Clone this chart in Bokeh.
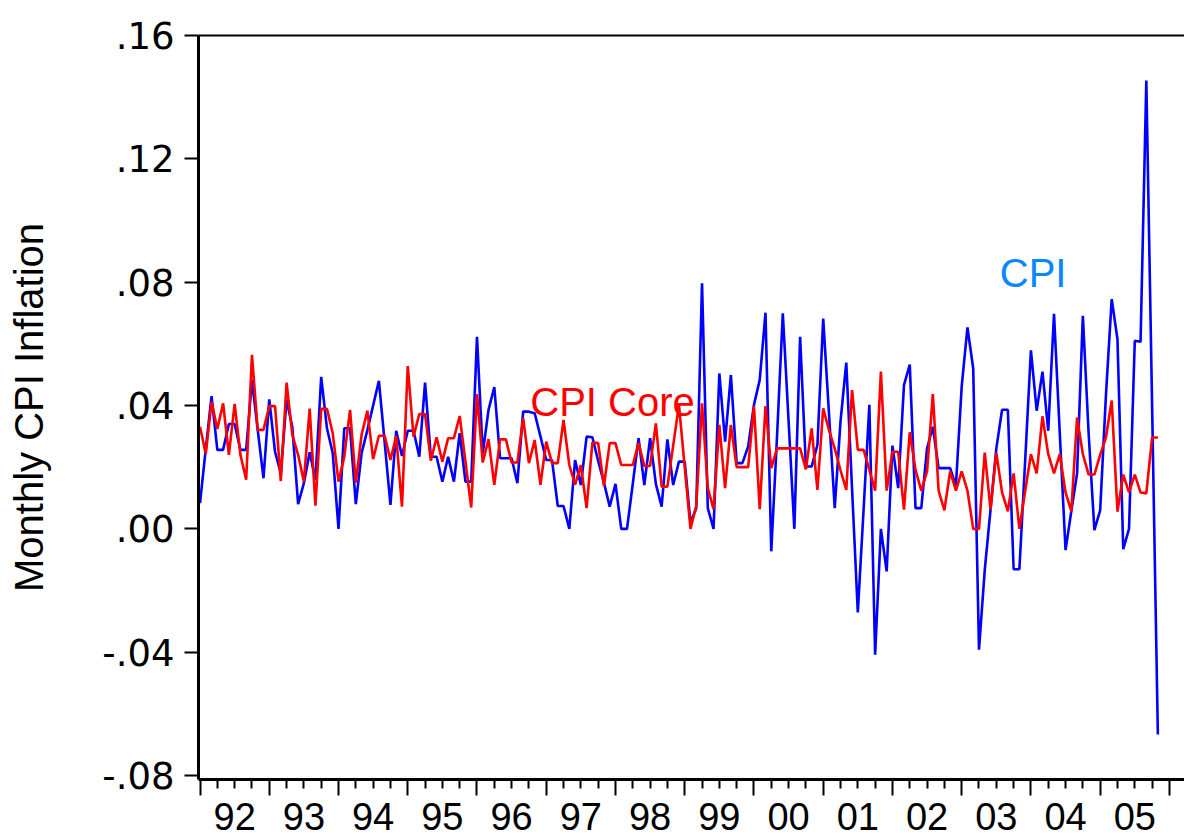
import numpy as np
from bokeh.plotting import figure
from bokeh.models import LinearAxis, FixedTicker, Label, Range1d, CustomLabelingPolicy
from bokeh.embed import file_html
from bokeh.resources import INLINE

# Monthly inflation, 1992:01 onwards
cpi = [
    0.0083, 0.026, 0.043, 0.0256, 0.0256, 0.034, 0.034, 0.0256, 0.0256, 0.0483, 0.032, 0.0164,
    0.042, 0.025, 0.018, 0.0418, 0.033, 0.008, 0.0148, 0.0248, 0.0159, 0.0493, 0.0326, 0.0245,
    0.0, 0.0326, 0.0326, 0.008, 0.0245, 0.032, 0.040, 0.048, 0.028, 0.0078, 0.0318, 0.0236,
    0.0318, 0.0318, 0.0234, 0.0474, 0.0234, 0.0234, 0.0153, 0.0234, 0.0153, 0.031, 0.0153, 0.0153,
    0.0623, 0.0245, 0.0386, 0.046, 0.0229, 0.0229, 0.0229, 0.0148, 0.038, 0.038, 0.0375, 0.030,
    0.0223, 0.0223, 0.0074, 0.0074, 0.0, 0.0223, 0.0142, 0.0299, 0.0297, 0.022, 0.015, 0.0072,
    0.0146, 0.0, 0.0, 0.0146, 0.0294, 0.0142, 0.0294, 0.0146, 0.0072, 0.029, 0.0142, 0.0218,
    0.0218, 0.002, 0.0067, 0.0796, 0.0067, 0.0, 0.0504, 0.0283, 0.0499, 0.0213, 0.0213, 0.0267,
    0.0402, 0.0483, 0.0701, -0.0073, 0.030, 0.0699, 0.035, 0.0, 0.0623, 0.0202, 0.0202, 0.0272,
    0.0682, 0.0375, 0.0067, 0.0348, 0.0539, 0.013, -0.0271, 0.0062, 0.0402, -0.0408, 0.0, -0.0138,
    0.027, 0.0132, 0.0466, 0.0533, 0.0067, 0.0067, 0.0261, 0.0331, 0.0197, 0.0197, 0.0197, 0.0139,
    0.0461, 0.0653, 0.052, -0.0392, -0.0133, 0.0062, 0.026, 0.0386, 0.0386, -0.0131, -0.0131, 0.022,
    0.0579, 0.0383, 0.051, 0.0318, 0.0697, 0.031, -0.0069, 0.0057, 0.018, 0.0691, 0.031, -0.0004,
    0.006, 0.0433, 0.0745, 0.0615, -0.0066, 0.0, 0.061, 0.0607, 0.1454, 0.04, -0.0667,
]
cpi_core = [
    0.0331, 0.0243, 0.0412, 0.0324, 0.0407, 0.024, 0.0405, 0.024, 0.0159, 0.0564, 0.0321, 0.0321,
    0.0398, 0.0398, 0.0155, 0.0474, 0.0305, 0.024, 0.0153, 0.039, 0.0075, 0.0389, 0.0389, 0.031,
    0.0153, 0.0234, 0.0386, 0.015, 0.0305, 0.0383, 0.0226, 0.0302, 0.0302, 0.0223, 0.0301, 0.0072,
    0.0528, 0.0299, 0.0372, 0.0372, 0.0221, 0.0297, 0.0218, 0.0294, 0.0294, 0.0366, 0.0218, 0.0069,
    0.0437, 0.0215, 0.0291, 0.0143, 0.029, 0.029, 0.0215, 0.0215, 0.0359, 0.0213, 0.0288, 0.0143,
    0.0283, 0.0213, 0.0213, 0.0353, 0.0207, 0.0143, 0.0207, 0.0067, 0.028, 0.0278, 0.0139, 0.0278,
    0.0278, 0.0207, 0.0207, 0.0207, 0.0278, 0.0204, 0.0204, 0.0342, 0.0137, 0.0137, 0.027, 0.0402,
    0.02, 0.0, 0.0075, 0.0407, 0.0132, 0.0064, 0.0337, 0.0132, 0.0337, 0.02, 0.02, 0.02,
    0.0398, 0.0064, 0.0398, 0.0197, 0.0261, 0.0261, 0.0261, 0.0261, 0.0261, 0.0193, 0.0326, 0.0126,
    0.0391, 0.032, 0.026, 0.019, 0.0126, 0.045, 0.0256, 0.0256, 0.0191, 0.0124, 0.051, 0.0124,
    0.025, 0.025, 0.0062, 0.0313, 0.0191, 0.0124, 0.0186, 0.0437, 0.0124, 0.006, 0.0186, 0.0124,
    0.0186, 0.0124, 0.0, 0.0, 0.0247, 0.0062, 0.0247, 0.0118, 0.0057, 0.018, 0.0, 0.0122,
    0.0242, 0.018, 0.0365, 0.0242, 0.018, 0.0242, 0.0118, 0.0057, 0.0361, 0.0242, 0.0176, 0.0176,
    0.024, 0.0296, 0.0416, 0.0056, 0.0176, 0.0118, 0.0176, 0.0118, 0.0115, 0.0296, 0.0296,
]
start_year = 1992
years = list(range(1992, 2007))
year_labels = ["92", "93", "94", "95", "96", "97", "98", "99", "00", "01", "02", "03", "04", "05"]
y_ticks = [-0.08, -0.04, 0, 0.04, 0.08, 0.12, 0.16]
y_tick_labels = ["-.08", "-.04", ".00", ".04", ".08", ".12", ".16"]
series_labels = ["CPI Core", "CPI"]
series_label_x = [1996.77, 2003.55]
series_label_y = [0.0411, 0.0829]

n = len(cpi)
x = start_year + np.arange(n) / 12.0

FONT = "Liberation Sans"
TICKFONT = "DejaVu Sans"

p = figure(width=1184, height=838, output_backend="svg", toolbar_location=None,
           x_range=Range1d(1991.978, 2006.218), y_range=Range1d(-0.0813, 0.16),
           min_border_left=198, min_border_right=0, min_border_top=35, min_border_bottom=59)
p.outline_line_color = None
p.xgrid.visible = False
p.ygrid.visible = False
p.background_fill_color = "white"
p.border_fill_color = "white"

# bottom axis: year-start ticks (major) + quarterly minor ticks, no labels
ax = p.xaxis[0]
quarters = [y + q / 4 for y in years[:-1] for q in (1, 2, 3)]
ax.ticker = FixedTicker(ticks=years, minor_ticks=quarters)
ax.major_label_policy = CustomLabelingPolicy(code="return new Set()")
ax.major_label_text_font_size = "1px"
ax.major_label_standoff = 0
ax.major_tick_in = 0
ax.major_tick_out = 16
ax.minor_tick_in = 0
ax.minor_tick_out = 9
ax.axis_line_width = 3
ax.major_tick_line_width = 2
ax.minor_tick_line_width = 2
ax.axis_line_color = "black"
ax.major_tick_line_color = "black"
ax.minor_tick_line_color = "black"

# second bottom axis carrying the year labels centred in each year
mids = [y + 0.5 for y in years[:-1]]
axb = LinearAxis(ticker=FixedTicker(ticks=mids, minor_ticks=[]),
                 major_label_overrides={m: lab for m, lab in zip(mids, year_labels)},
                 major_tick_line_color=None, minor_tick_line_color=None, axis_line_color=None,
                 major_label_text_font_size="38px", major_label_text_font=FONT,
                 major_label_text_color="black", major_label_standoff=-3)
p.add_layout(axb, "below")

# top frame line
axt = LinearAxis(ticker=FixedTicker(ticks=[], minor_ticks=[]),
                 major_tick_line_color=None, minor_tick_line_color=None, axis_line_width=2,
                 axis_line_color="black")
p.add_layout(axt, "above")

ay = p.yaxis[0]
ay.ticker = FixedTicker(ticks=y_ticks, minor_ticks=[])
ay.major_label_overrides = {t: lab for t, lab in zip(y_ticks, y_tick_labels)}
ay.major_tick_in = 0
ay.major_tick_out = 14
ay.major_tick_line_width = 2
ay.minor_tick_line_color = None
ay.axis_line_width = 3
ay.axis_line_color = "black"
ay.major_tick_line_color = "black"
ay.major_label_text_font = TICKFONT
ay.major_label_text_font_size = "37px"
ay.major_label_text_color = "black"
ay.major_label_standoff = 10
ay.axis_label = "Monthly CPI Inflation"
ay.axis_label_text_font = FONT
ay.axis_label_text_font_size = "40px"
ay.axis_label_text_font_style = "normal"
ay.axis_label_text_color = "black"
ay.axis_label_standoff = 48

p.line(x, cpi, line_color="#0000ff", line_width=2.6)
p.line(x, cpi_core, line_color="#ff0000", line_width=2.6)

colors = ["#ff0000", "#0a86ff"]
sizes = ["40px", "40px"]
for lab, lx, ly, c, s in zip(series_labels, series_label_x, series_label_y, colors, sizes):
    p.add_layout(Label(x=lx, y=ly, text=lab, text_color=c, text_font=FONT,
                       text_font_size=s, text_baseline="alphabetic", text_align="left"))

open("out.html", "w").write(file_html(p, INLINE))
